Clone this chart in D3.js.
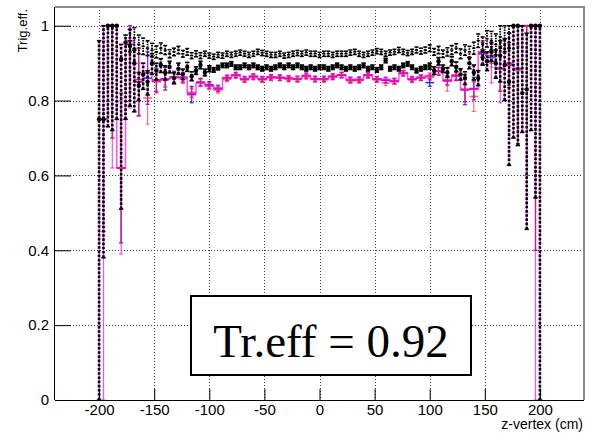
<!DOCTYPE html>
<html>
<head>
<meta charset="utf-8">
<script src="https://cdn.jsdelivr.net/npm/d3@7"></script>
<style>
  body { margin: 0; background: #fff; }
  text { font-family: "Liberation Sans", Arial, Helvetica, sans-serif; }
</style>
</head>
<body>
<svg id="chart" width="602" height="433"></svg>
<script>
// ---- binning (cm) ----
const zMin = -240, zMax = 240;
const fineWidth = 4;     // fine binning of the black efficiency curves
const wideWidth = 8;     // coarse binning of the coloured curves
const zFine = d3.range(-200, 201, fineWidth);
const zUpper = d3.range(-172, 173, fineWidth);
const zWide = d3.range(-196, 197, wideWidth);

// ---- axis ticks ----
const xMajorTicks = [-200, -150, -100, -50, 0, 50, 100, 150, 200];
const yMajorTicks = [0, 0.2, 0.4, 0.6, 0.8, 1.0];
const yTickLabels = ["0", "0.2", "0.4", "0.6", "0.8", "1"];
const xTitle = "z-vertex (cm)";
const yTitle = "Trig.eff.";
const boxLabel = "Tr.eff = 0.92";

// ---- black efficiency (filled dots), 4 cm bins ----
const effDots = [
  .75,.75,1,1,1,.91,.955,.946,.90,.84,
  .87,.85,.90,.88,.895,.875,.89,.86,.885,.87,
  .89,.865,.88,.895,.875,.885,.882,.888,.894,.894,
  .898,.889,.889,.894,.889,.894,.889,.885,.889,.885,
  .889,.894,.889,.894,.889,.894,.889,.885,.889,.885,
  .889,.889,.885,.889,.894,.889,.885,.889,.885,.889,
  .894,.885,.889,.882,.889,.907,.885,.889,.885,.894,
  .898,.889,.88,.885,.889,.892,.88,.905,.885,.875,
  .905,.89,.87,.86,.90,.875,.86,.915,.905,.93,
  .90,.92,.895,.85,1,1,.82,.83,1,1,
  1
];
const effDotsDown = [
  .75,.37,.27,.28,.25,.40,.205,.161,.13,.04,
  .04,.035,.03,.025,.02,.02,.016,.015,.015,.014,
  .012,.012,.01,.01,.009,.008,.006,.006,.006,.006,
  .006,.006,.006,.006,.006,.006,.006,.006,.006,.006,
  .006,.006,.006,.006,.006,.006,.006,.006,.006,.006,
  .006,.006,.006,.006,.006,.006,.006,.006,.006,.006,
  .006,.006,.006,.006,.006,.006,.006,.006,.006,.006,
  .006,.006,.006,.006,.006,.008,.01,.01,.01,.013,
  .012,.013,.015,.017,.015,.02,.02,.02,.025,.025,
  .04,.07,.095,.223,.30,.32,.105,.374,.28,.46,
  1.0
];
const effDotsUp = [
  .21,.25,0,0,0,.04,.02,.044,.035,.035,
  .03,.03,.025,.02,.017,.018,.015,.015,.015,.014,
  .012,.012,.01,.01,.009,.008,.006,.006,.006,.006,
  .006,.006,.006,.006,.006,.006,.006,.006,.006,.006,
  .006,.006,.006,.006,.006,.006,.006,.006,.006,.006,
  .006,.006,.006,.006,.006,.006,.006,.006,.006,.006,
  .006,.006,.006,.006,.006,.006,.006,.006,.006,.006,
  .006,.006,.006,.006,.006,.008,.01,.01,.01,.013,
  .012,.013,.015,.017,.015,.02,.02,.02,.025,.025,
  .035,.04,.07,.13,0,0,.18,.15,0,0,
  0
];

// ---- black efficiency (open "H" markers), 4 cm bins ----
const effUpper = [
  .96,.967,.95,.945,.94,.935,.93,.94,.935,.925,
  .93,.935,.925,.93,.92,.925,.92,.925,.92,.917,
  .922,.92,.925,.922,.925,.928,.925,.922,.925,.93,
  .927,.925,.922,.922,.925,.92,.922,.925,.927,.925,
  .928,.925,.925,.922,.925,.925,.922,.925,.925,.925,
  .928,.93,.925,.922,.925,.928,.932,.93,.925,.928,
  .93,.935,.93,.927,.93,.935,.932,.935,.94,.93,
  .935,.925,.93,.935,.94,.925,.935,.93,.94,.96,
  .95,.965,.96,.95,.97,.965,.98
];
const effUpperErr = [
  .03,.028,.025,.022,.02,.018,.016,.014,.012,.011,
  .01,.01,.009,.009,.008,.008,.008,.007,.007,.007,
  .007,.007,.007,.007,.007,.007,.007,.007,.007,.007,
  .007,.007,.007,.007,.007,.007,.007,.007,.007,.007,
  .007,.007,.007,.007,.007,.007,.007,.007,.007,.007,
  .007,.007,.007,.007,.007,.007,.007,.007,.007,.007,
  .007,.007,.007,.007,.007,.008,.008,.008,.009,.009,
  .01,.01,.011,.012,.012,.013,.014,.015,.016,.018,
  .02,.022,.025,.028,.03,.035,.04
];

// ---- magenta efficiency, 8 cm bins ----
const effMagenta = [
  .75,1.0,.62,.96,.856,.874,.852,.858,.863,.862,
  .819,.847,.84,.831,.86,.869,.858,.865,.858,.863,
  .862,.86,.858,.867,.858,.858,.865,.869,.856,.856,
  .869,.858,.856,.853,.874,.858,.862,.866,.88,.852,
  .868,.83,.83,.93,.92,.887,.90,.886,1.0,1.0
];
const effMagentaDown = [
  .75,.38,.23,.18,.098,.074,.03,.02,.015,.013,
  .012,.01,.008,.008,.007,.007,.007,.007,.007,.007,
  .007,.007,.007,.007,.007,.007,.007,.007,.007,.007,
  .007,.007,.007,.007,.007,.007,.007,.008,.01,.012,
  .012,.035,.02,.03,.073,.093,.06,.206,.5,1.0
];
const effMagentaUp = [
  .21,0,.18,.04,.044,.046,.028,.02,.015,.013,
  .012,.01,.008,.008,.007,.007,.007,.007,.007,.007,
  .007,.007,.007,.007,.007,.007,.007,.007,.007,.007,
  .007,.007,.007,.007,.007,.007,.007,.008,.01,.012,
  .012,.03,.02,.03,.03,.04,.05,.06,0,0
];

// ---- red efficiency, 8 cm bins ----
const effRed = [
  .75,1.0,.62,.95,.85,.807,.85,.855,.86,.858,
  .822,.85,.838,.828,.857,.866,.855,.862,.855,.86,
  .86,.857,.856,.864,.856,.855,.862,.867,.853,.853,
  .866,.855,.847,.85,.872,.855,.86,.862,.878,.855,
  .865,.828,.811,.928,.904,.885,.895,.88,1.0,1.0
];
const effRedErr = [
  .3,.3,.2,.15,.09,.07,.03,.02,.015,.013,
  .012,.01,.009,.008,.007,.007,.007,.007,.007,.007,
  .007,.007,.007,.007,.007,.007,.007,.007,.007,.007,
  .007,.007,.007,.007,.007,.007,.007,.008,.01,.03,
  .012,.03,.04,.03,.015,.06,.06,.2,.4,.6
];

// ---- blue efficiency, 8 cm bins ----
const effBlue = [
  .75,1.0,.62,.95,.85,.86,.855,.858,.863,.862,
  .816,.849,.842,.833,.861,.868,.857,.864,.857,.862,
  .861,.859,.858,.866,.858,.858,.864,.868,.855,.856,
  .868,.857,.854,.852,.873,.857,.861,.848,.878,.854,
  .866,.829,.832,.925,.915,.885,.895,.885,1.0,1.0
];
const effBlueErr = [
  .3,.3,.2,.15,.09,.07,.03,.03,.015,.013,
  .022,.01,.009,.008,.007,.007,.007,.007,.007,.007,
  .007,.007,.007,.007,.007,.007,.007,.007,.007,.007,
  .007,.007,.007,.007,.007,.007,.007,.01,.01,.012,
  .012,.04,.03,.03,.015,.06,.06,.2,.4,.6
];

// ---- layout ----
const W = 602, H = 433;
const frame = { left: 55, right: 584, top: 7, bottom: 400 };
const svg = d3.select("#chart");
svg.append("rect").attr("width", W).attr("height", H).attr("fill", "#fff");

const x = d3.scaleLinear().domain([zMin, zMax]).range([frame.left, frame.right]);
const y = d3.scaleLinear().domain([0, 1.05]).range([frame.bottom, frame.top]);
const clampEff = v => Math.max(0, Math.min(1, v));

// grid
const grid = svg.append("g").attr("stroke", "#444").attr("stroke-width", 1)
  .attr("stroke-dasharray", "1,2").attr("fill", "none");
xMajorTicks.forEach(t => grid.append("line")
  .attr("x1", Math.round(x(t)) + 0.5).attr("x2", Math.round(x(t)) + 0.5)
  .attr("y1", frame.top).attr("y2", frame.bottom));
yMajorTicks.filter(t => t > 0).forEach(t => grid.append("line")
  .attr("x1", frame.left).attr("x2", frame.right)
  .attr("y1", Math.round(y(t)) + 0.5).attr("y2", Math.round(y(t)) + 0.5));

const plot = svg.append("g");

// coloured bins: horizontal bin bar + vertical error bar with caps
function drawBinned(g, centers, vals, down, up, color, opacity, width) {
  const cap = 2;
  centers.forEach((c, i) => {
    const v = vals[i];
    const lo = clampEff(v - down[i]), hi = clampEff(v + up[i]);
    const cx = x(c);
    g.append("line").attr("x1", x(c - width / 2)).attr("x2", x(c + width / 2))
      .attr("y1", y(v)).attr("y2", y(v))
      .attr("stroke", color).attr("stroke-opacity", opacity).attr("stroke-width", 1.6);
    g.append("line").attr("x1", cx).attr("x2", cx).attr("y1", y(lo)).attr("y2", y(hi))
      .attr("stroke", color).attr("stroke-opacity", opacity).attr("stroke-width", 1.2);
    [lo, hi].forEach(b => g.append("line")
      .attr("x1", cx - cap).attr("x2", cx + cap).attr("y1", y(b)).attr("y2", y(b))
      .attr("stroke", color).attr("stroke-opacity", opacity).attr("stroke-width", 1.2));
  });
}

drawBinned(plot.append("g"), zWide, effBlue, effBlueErr, effBlueErr, "#1010ff", 0.85, wideWidth);

// magenta: step outline plus error bars
const stepPts = [];
zWide.forEach((c, i) => {
  stepPts.push([c - wideWidth / 2, effMagenta[i]]);
  stepPts.push([c + wideWidth / 2, effMagenta[i]]);
});
plot.append("path")
  .attr("d", d3.line().x(d => x(d[0])).y(d => y(d[1]))(stepPts))
  .attr("fill", "none").attr("stroke", "#ff00ff").attr("stroke-opacity", 0.7)
  .attr("stroke-width", 1.5);
drawBinned(plot.append("g"), zWide, effMagenta, effMagentaDown, effMagentaUp, "#ff00ff", 0.7, wideWidth);

// red on top, semi-transparent
drawBinned(plot.append("g"), zWide, effRed, effRedErr, effRedErr, "#ff1030", 0.6, wideWidth);

// black dots: dotted error bars over a thin magenta line
const gDots = plot.append("g");
zFine.forEach((c, i) => {
  const v = effDots[i];
  const lo = clampEff(v - effDotsDown[i]), hi = clampEff(v + effDotsUp[i]);
  const cx = x(c);
  gDots.append("line").attr("x1", cx).attr("x2", cx).attr("y1", y(lo)).attr("y2", y(hi))
    .attr("stroke", "#ff33ff").attr("stroke-width", 1);
  gDots.append("line").attr("x1", cx).attr("x2", cx).attr("y1", y(lo)).attr("y2", y(hi))
    .attr("stroke", "#000").attr("stroke-width", 2.6).attr("stroke-dasharray", "2.6,1.6");
  [lo, hi].forEach(b => gDots.append("line")
    .attr("x1", cx - 2.2).attr("x2", cx + 2.2).attr("y1", y(b)).attr("y2", y(b))
    .attr("stroke", "#000").attr("stroke-width", 1.6));
});

// black "H" markers
const gUpper = plot.append("g").attr("stroke", "#000");
zUpper.forEach((c, i) => {
  const v = effUpper[i];
  const lo = clampEff(v - effUpperErr[i]), hi = clampEff(v + effUpperErr[i]);
  const cx = x(c);
  gUpper.append("line").attr("x1", cx).attr("x2", cx).attr("y1", y(lo)).attr("y2", y(hi))
    .attr("stroke-width", 1.8).attr("stroke-dasharray", "1.6,1");
  [lo, hi].forEach(b => gUpper.append("line")
    .attr("x1", cx - 2).attr("x2", cx + 2).attr("y1", y(b)).attr("y2", y(b))
    .attr("stroke-width", 1.5));
  gUpper.append("line").attr("x1", cx - 1.6).attr("x2", cx + 1.6).attr("y1", y(v)).attr("y2", y(v))
    .attr("stroke-width", 1.5);
});

// black dot markers
plot.append("g").selectAll("circle").data(zFine).join("circle")
  .attr("cx", d => x(d)).attr("cy", (d, i) => y(effDots[i])).attr("r", 2.2)
  .attr("fill", "#000");

// text box
const bx0 = 191, bx1 = 471, by0 = 296, by1 = 375;
svg.append("rect").attr("x", bx0).attr("y", by0).attr("width", bx1 - bx0).attr("height", by1 - by0)
  .attr("fill", "#fff").attr("stroke", "#000").attr("stroke-width", 2);
svg.append("text").attr("x", (bx0 + bx1) / 2).attr("y", 357).attr("text-anchor", "middle")
  .style("font-family", "'Liberation Serif', 'Times New Roman', serif").style("font-size", "47px")
  .attr("fill", "#000").text(boxLabel);

// frame
svg.append("line").attr("x1", frame.left).attr("x2", frame.right + 1).attr("y1", frame.top).attr("y2", frame.top)
  .attr("stroke", "#8c8c8c").attr("stroke-width", 2);
svg.append("line").attr("x1", frame.right).attr("x2", frame.right).attr("y1", frame.top).attr("y2", frame.bottom)
  .attr("stroke", "#8c8c8c").attr("stroke-width", 2);

// x axis (ticks point into the frame)
const xMinor = d3.range(zMin, zMax + 1, 10);
const gx = svg.append("g").attr("transform", `translate(0,${frame.bottom})`);
gx.call(d3.axisBottom(x).tickValues(xMinor).tickSize(-6).tickFormat(""));
gx.call(d3.axisBottom(x).tickValues(xMajorTicks).tickSize(-11).tickPadding(4).tickFormat(d3.format("d")));
gx.select(".domain").attr("stroke", "#000").attr("d", `M${frame.left},0.5H${frame.right}`);
gx.selectAll("text").style("font-size", "15px").attr("fill", "#000")
  .text(d => (d < 0 ? "-" + Math.abs(d) : String(d)));
gx.selectAll("line").attr("stroke", "#000");

// y axis
const yMinor = d3.range(0, 1.051, 0.05);
const gy = svg.append("g").attr("transform", `translate(${frame.left},0)`);
gy.call(d3.axisLeft(y).tickValues(yMinor).tickSize(-8).tickFormat(""));
gy.call(d3.axisLeft(y).tickValues(yMajorTicks).tickSize(-16).tickPadding(6)
  .tickFormat((d, i) => yTickLabels[i]));
gy.select(".domain").attr("stroke", "#000").attr("d", `M-0.5,${frame.bottom}V${frame.top}`);
gy.selectAll("text").style("font-size", "15px").attr("fill", "#000");
gy.selectAll("line").attr("stroke", "#000");

// axis titles
svg.append("text").attr("x", 583).attr("y", 429).attr("text-anchor", "end")
  .style("font-size", "14px").attr("fill", "#000").text(xTitle);
svg.append("text").attr("transform", "translate(27,9) rotate(-90)").attr("text-anchor", "end")
  .style("font-size", "13px").attr("fill", "#000").text(yTitle);
</script>
</body>
</html>
